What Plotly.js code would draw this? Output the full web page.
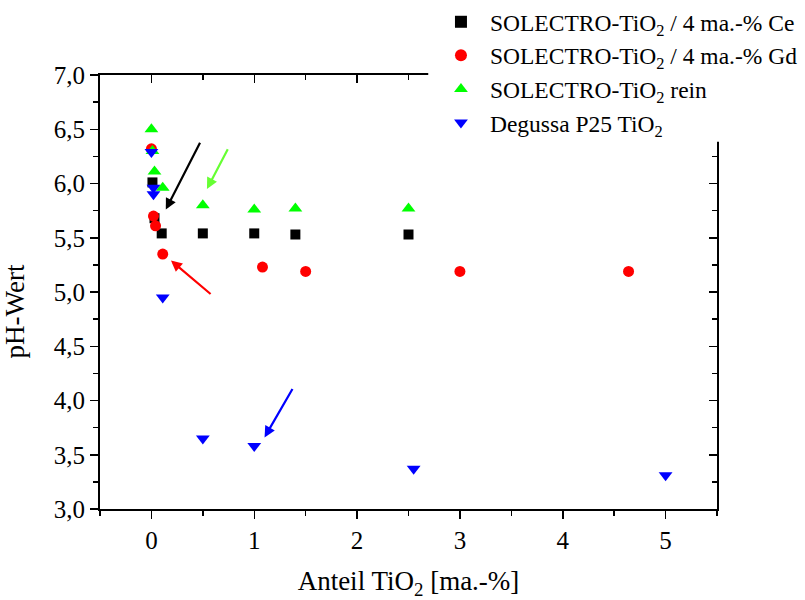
<!DOCTYPE html>
<html>
<head>
<meta charset="utf-8">
<script src="https://cdn.plot.ly/plotly-3.0.1.min.js"></script>
<style>html,body{margin:0;padding:0;background:#fff;}#chart{width:805px;height:600px;}</style>
</head>
<body>
<div id="chart"></div>
<script>
// Data
const ceX = [0.01, 0.03, 0.1, 0.5, 1.0, 1.4, 2.5];
const ceY = [6.01, 5.68, 5.54, 5.54, 5.54, 5.53, 5.53];

const gdX = [0.0, 0.02, 0.04, 0.11, 1.08, 1.5, 3.0, 4.64];
const gdY = [6.32, 5.70, 5.61, 5.35, 5.23, 5.19, 5.19, 5.19];

const reinX = [0.0, 0.01, 0.03, 0.11, 0.5, 1.0, 1.4, 2.5];
const reinY = [6.50, 6.30, 6.11, 5.96, 5.80, 5.76, 5.77, 5.77];

const p25X = [0.0, 0.02, 0.02, 0.11, 0.5, 1.0, 2.55, 5.0];
const p25Y = [6.29, 5.96, 5.90, 4.95, 3.65, 3.58, 3.37, 3.31];

const seriesNames = [
  'SOLECTRO-TiO<sub>2</sub> / 4 ma.-% Ce',
  'SOLECTRO-TiO<sub>2</sub> / 4 ma.-% Gd',
  'SOLECTRO-TiO<sub>2</sub> rein',
  'Degussa P25 TiO<sub>2</sub>'
];

const xTitle = 'Anteil TiO<sub>2</sub> [ma.-%]';
const yTitle = 'pH-Wert';

// Arrows: tip (x,y) and tail (ax,ay) in data units
const arrowTipX  = [0.14, 0.54, 0.19, 1.10];
const arrowTipY  = [5.76, 5.95, 5.29, 3.66];
const arrowTailX = [0.48, 0.75, 0.59, 1.38];
const arrowTailY = [6.39, 6.33, 4.97, 4.12];
const arrowColors = ['#000000', '#66ff33', '#ff0000', '#0000ff'];

const xRange = [-0.5, 5.5];
const yRange = [3.0, 7.0];

const serif = 'Liberation Serif, Times New Roman, serif';

const traces = [
  {x: ceX, y: ceY, name: seriesNames[0], mode: 'markers', type: 'scatter',
   marker: {symbol: 'square', size: 10, color: '#000000'}},
  {x: gdX, y: gdY, name: seriesNames[1], mode: 'markers', type: 'scatter',
   marker: {symbol: 'circle', size: 11, color: '#ff0000'}},
  {x: reinX, y: reinY, name: seriesNames[2], mode: 'markers', type: 'scatter',
   marker: {symbol: 'triangle-up', size: 12, color: '#00ff00'}},
  {x: p25X, y: p25Y, name: seriesNames[3], mode: 'markers', type: 'scatter',
   marker: {symbol: 'triangle-down', size: 12, color: '#0000ff'}},
  {x: [], y: [], xaxis: 'x2', yaxis: 'y2', showlegend: false, hoverinfo: 'skip', type: 'scatter', mode: 'markers'}
];

const annotations = arrowTipX.map((tx, i) => ({
  x: tx, y: arrowTipY[i], ax: arrowTailX[i], ay: arrowTailY[i],
  xref: 'x', yref: 'y', axref: 'x', ayref: 'y',
  text: '', showarrow: true, arrowhead: 2, arrowsize: 1, arrowwidth: 2.2,
  arrowcolor: arrowColors[i]
}));
annotations.push({
  text: yTitle, textangle: -90, showarrow: false,
  xref: 'paper', yref: 'paper', x: -0.138, y: 0.455, xanchor: 'center', yanchor: 'middle',
  font: {family: serif, size: 27, color: '#000'}
});

const axisCommon = {
  showline: true, linecolor: '#000', linewidth: 2,
  showgrid: false, zeroline: false,
  tickcolor: '#000', tickwidth: 1.5, ticklen: 8,
  tickfont: {family: serif, size: 25, color: '#000'}
};

const layout = {
  width: 805, height: 600,
  margin: {l: 100, r: 88, t: 75, b: 91, pad: 0, autoexpand: false},
  paper_bgcolor: '#fff', plot_bgcolor: '#fff',
  separators: ',.',
  showlegend: true,
  legend: {
    xref: 'container', yref: 'container',
    x: 0.5366, xanchor: 'left', y: 1.0, yanchor: 'top',
    bgcolor: 'rgba(255,255,255,0)', borderwidth: 0,
    font: {family: serif, size: 23.5, color: '#000'},
    itemsizing: 'constant', itemwidth: 48
  },
  xaxis: Object.assign({}, axisCommon, {
    range: xRange, dtick: 1, tick0: 0, ticks: 'outside',
    minor: {dtick: 0.5, tick0: 0, ticks: 'outside', ticklen: 5, tickwidth: 1.5, tickcolor: '#000', showgrid: false},
    title: {text: xTitle, font: {family: serif, size: 27, color: '#000'}, standoff: 18},
    anchor: 'y'
  }),
  yaxis: Object.assign({}, axisCommon, {
    range: yRange, dtick: 0.5, tick0: 3, ticks: 'outside', tickformat: '.1f',
    minor: {dtick: 0.25, tick0: 3, ticks: 'outside', ticklen: 5, tickwidth: 1.5, tickcolor: '#000', showgrid: false},
    anchor: 'x'
  }),
  xaxis2: Object.assign({}, axisCommon, {
    overlaying: 'x', side: 'top', anchor: 'y2', range: xRange, dtick: 1, tick0: 0,
    ticks: 'inside', showticklabels: false,
    minor: {dtick: 0.5, tick0: 0, ticks: 'inside', ticklen: 5, tickwidth: 1.5, tickcolor: '#000', showgrid: false}
  }),
  yaxis2: Object.assign({}, axisCommon, {
    overlaying: 'y', side: 'right', anchor: 'x2', range: yRange, dtick: 0.5, tick0: 3,
    ticks: 'inside', showticklabels: false,
    minor: {dtick: 0.25, tick0: 3, ticks: 'inside', ticklen: 5, tickwidth: 1.5, tickcolor: '#000', showgrid: false}
  }),
  shapes: [{
    type: 'rect', xref: 'paper', yref: 'paper', layer: 'above',
    x0: 0.532, x1: 1.2, y0: 0.846, y1: 1.2,
    fillcolor: '#ffffff', line: {width: 0}
  }],
  annotations: annotations
};

Plotly.newPlot('chart', traces, layout, {displayModeBar: false, staticPlot: true});
</script>
</body>
</html>
